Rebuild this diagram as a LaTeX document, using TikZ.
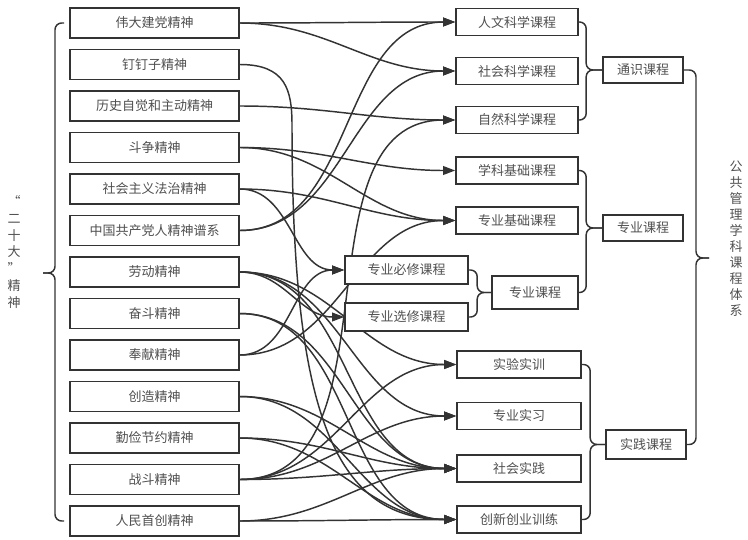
\documentclass[tikz,border=0pt]{standalone}
\usepackage{fontspec}
\setmainfont{Noto Sans CJK SC}
\usetikzlibrary{arrows.meta,calc}
\pgfdeclarelayer{bg}
\pgfsetlayers{bg,main}
\definecolor{linec}{RGB}{51,51,51}
\definecolor{textc}{RGB}{80,80,80}
\begin{document}
\begin{tikzpicture}[x=0.75pt,y=-0.75pt,
  box/.style={draw=linec, line width=1.2pt, fill=white, text=textc,
    font=\fontsize{9.75pt}{12pt}\selectfont, inner sep=0pt},
  lbox/.style={box, minimum width=126.75pt, minimum height=22.5pt},
  rbox/.style={box, minimum width=91.5pt, minimum height=20.5pt},
  mbox/.style={box, minimum width=92.25pt, minimum height=21pt},
  pbox/.style={box, minimum width=93pt, minimum height=20.5pt},
  cbox/.style={box, minimum width=60pt, minimum height=19.5pt},
  vtext/.style={align=center, text=textc, inner sep=0pt},
  conn/.style={draw=linec, line width=1.1pt, -{Triangle[length=9pt,width=6.5pt]}},
  brace/.style={draw=linec, line width=1.1pt, rounded corners=5pt},
]
\useasboundingbox (0,0) rectangle (748,539);

% left column
\node[lbox] (w1)  at (154.5,23)    {伟大建党精神};
\node[lbox] (w2)  at (154.5,64.5)  {钉钉子精神};
\node[lbox] (w3)  at (154.5,106)   {历史自觉和主动精神};
\node[lbox] (w4)  at (154.5,147.5) {斗争精神};
\node[lbox] (w5)  at (154.5,189)   {社会主义法治精神};
\node[lbox] (w6)  at (154.5,230.5) {中国共产党人精神谱系};
\node[lbox] (w7)  at (154.5,272)   {劳动精神};
\node[lbox] (w8)  at (154.5,313.5) {奋斗精神};
\node[lbox] (w9)  at (154.5,355)   {奉献精神};
\node[lbox] (w10) at (154.5,396.5) {创造精神};
\node[lbox] (w11) at (154.5,438)   {勤俭节约精神};
\node[lbox] (w12) at (154.5,479.5) {战斗精神};
\node[lbox] (w13) at (154.5,521)   {人民首创精神};

% course column
\node[rbox] (rw)  at (517,22)    {人文科学课程};
\node[rbox] (sh)  at (517,71)    {社会科学课程};
\node[rbox] (zr)  at (517,120)   {自然科学课程};
\node[rbox] (xk)  at (517,170.5) {学科基础课程};
\node[rbox] (zj)  at (517,220.5) {专业基础课程};
\node[mbox] (bx)  at (406.5,270) {专业必修课程};
\node[mbox] (xx)  at (406.5,317) {专业选修课程};
\node[box, minimum width=64.5pt, minimum height=24.75pt] (zk2) at (535,292.5) {专业课程};
\node[pbox] (sy)  at (519,364.5) {实验实训};
\node[pbox] (sx)  at (519,416)   {专业实习};
\node[pbox] (shj) at (519,468.5) {社会实践};
\node[pbox] (cx)  at (519,519.5) {创新创业训练};

% group column
\node[cbox] (ts)  at (643,70)    {通识课程};
\node[cbox] (zk1) at (643,228)   {专业课程};
\node[cbox, minimum height=21.75pt] (sj) at (646,444.5) {实践课程};

% vertical titles
\node[vtext, font=\fontsize{9.75pt}{12.6pt}\selectfont] (lt) at (14,252) {“\\二\\十\\大\\”\\精\\神};
\node[vtext, font=\fontsize{9.75pt}{12pt}\selectfont] (rt) at (736,239) {公\\共\\管\\理\\学\\科\\课\\程\\体\\系};

% braces
\coordinate (tipL) at (43,273);
\draw[brace] ($(w1.west)+(-5,0)$) -| ($(tipL)+(12,0)$) -- (tipL);
\draw[brace] ($(w13.west)+(-5,0)$) -| ($(tipL)+(12,0)$) -- (tipL);

\draw[brace] (rw.east) -| ($(ts.west)+(-16,0)$) -- (ts.west);
\draw[brace] (zr.east) -| ($(ts.west)+(-16,0)$) -- (ts.west);

\draw[brace] (xk.east) -| ($(zk1.west)+(-16,0)$) -- (zk1.west);
\draw[brace] (zk2.east) -| ($(zk1.west)+(-16,0)$) -- (zk1.west);

\draw[brace] (bx.east) -| ($(zk2.west)+(-14,0)$) -- (zk2.west);
\draw[brace] (xx.east) -| ($(zk2.west)+(-14,0)$) -- (zk2.west);

\draw[brace] (sy.east) -| ($(sj.west)+(-15,0)$) -- (sj.west);
\draw[brace] (cx.east) -| ($(sj.west)+(-15,0)$) -- (sj.west);

\coordinate (tipR) at (709,258);
\draw[brace] (ts.east) -| ($(tipR)+(-13,0)$) -- (tipR);
\draw[brace] (sj.east) -| ($(tipR)+(-13,0)$) -- (tipR);

% connectors
\coordinate (dd) at (292,125);
\begin{pgfonlayer}{bg}
\draw[conn] (w1.east) to[out=0,in=180] (rw.west);
\draw[conn] (w1.east) to[out=0,in=180] (sh.west);
\draw[conn] (w2.east) .. controls +(46,0) and +(0,-35) .. (dd)
                      .. controls +(0,280) and +(-125,0) .. (cx.west);
\draw[conn] (w3.east) to[out=0,in=180] (zr.west);
\draw[conn] (w4.east) to[out=0,in=180] (xk.west);
\draw[conn] (w4.east) to[out=0,in=180] (zj.west);
\draw[conn] (w5.east) to[out=0,in=180] (zj.west);
\draw[conn] (w5.east) to[out=0,in=180] (bx.west);
\draw[conn] (w6.east) to[out=0,in=180] (rw.west);
\draw[conn] (w6.east) to[out=0,in=180] (sh.west);
\draw[conn] (w7.east) to[out=0,in=180] (xx.west);
\draw[conn] (w7.east) to[out=0,in=180] (sy.west);
\draw[conn] (w7.east) to[out=0,in=180] (sx.west);
\draw[conn] (w7.east) to[out=0,in=180] (shj.west);
\draw[conn] (w8.east) to[out=0,in=180] (shj.west);
\draw[conn] (w8.east) to[out=0,in=180] (cx.west);
\draw[conn] (w9.east) to[out=0,in=180] (bx.west);
\draw[conn] (w9.east) to[out=0,in=180] (zj.west);
\draw[conn] (w10.east) to[out=0,in=180] (shj.west);
\draw[conn] (w10.east) to[out=0,in=180] (cx.west);
\draw[conn] (w11.east) to[out=0,in=180] (shj.west);
\draw[conn] (w11.east) to[out=0,in=180] (cx.west);
\draw[conn] (w12.east) to[out=0,in=180] (zr.west);
\draw[conn] (w12.east) to[out=0,in=180] (sy.west);
\draw[conn] (w12.east) to[out=0,in=180] (sx.west);
\draw[conn] (w12.east) to[out=0,in=180] (shj.west);
\draw[conn] (w13.east) to[out=0,in=180] (shj.west);
\draw[conn] (w13.east) to[out=0,in=180] (cx.west);
\end{pgfonlayer}
\end{tikzpicture}
\end{document}
